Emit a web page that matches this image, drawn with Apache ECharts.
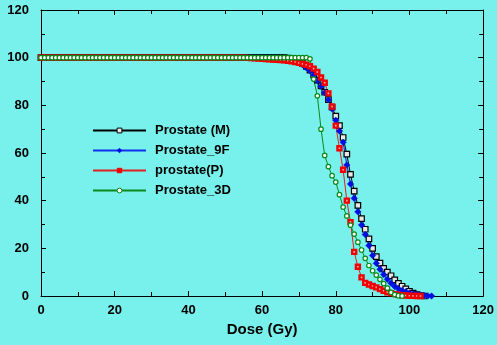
<!DOCTYPE html>
<html>
<head>
<meta charset="utf-8">
<script src="https://cdn.jsdelivr.net/npm/echarts@6/dist/echarts.min.js"></script>
<style>
  html, body { margin: 0; padding: 0; background: #78f0ec; }
  #dvh { width: 497px; height: 345px; }
</style>
</head>
<body>
<div id="dvh"></div>
<script>
// dose axis, 1 Gy steps
const dose = [
  0, 1, 2, 3, 4, 5, 6, 7, 8, 9, 10, 11, 12, 13, 14, 15, 16, 17, 18, 19,
  20, 21, 22, 23, 24, 25, 26, 27, 28, 29, 30, 31, 32, 33, 34, 35, 36, 37, 38, 39,
  40, 41, 42, 43, 44, 45, 46, 47, 48, 49, 50, 51, 52, 53, 54, 55, 56, 57, 58, 59,
  60, 61, 62, 63, 64, 65, 66, 67, 68, 69, 70, 71, 72, 73, 74, 75, 76, 77, 78, 79,
  80, 81, 82, 83, 84, 85, 86, 87, 88, 89, 90, 91, 92, 93, 94, 95, 96, 97, 98, 99,
  100, 101, 102, 103, 104, 105, 106
];
const seriesNames = ["Prostate (M)", "Prostate_9F", "prostate(P)", "Prostate_3D"];

// volume (%) per dose, null = no point
const prostateM = [
  100, 100, 100, 100, 100, 100, 100, 100, 100, 100, 100, 100, 100, 100, 100, 100, 100, 100, 100, 100,
  100, 100, 100, 100, 100, 100, 100, 100, 100, 100, 100, 100, 100, 100, 100, 100, 100, 100, 100, 100,
  100, 100, 100, 100, 100, 100, 100, 100, 100, 100, 100, 100, 100, 100, 100, 100, 100, 100, 100, 100,
  100, 100, 100, 100, 100, 100, 100, 99.8, 99.6, 99.2, 98.5, 97.5, 96.3, 94.8, 92.8, 90.6, 88.2, 85.5, 82.4, 79.2,
  75.5, 71.5, 66.5, 59.5, 51, 44, 38, 32.5, 28, 24, 20, 16.5, 13.8, 11.6, 10, 8.5, 6.8, 5.3, 4.1, 3,
  2, 1.2, 0.6, 0.2, 0, null, null
];
const prostate9F = [
  100, 100, 100, 100, 100, 100, 100, 100, 100, 100, 100, 100, 100, 100, 100, 100, 100, 100, 100, 100,
  100, 100, 100, 100, 100, 100, 100, 100, 100, 100, 100, 100, 100, 100, 100, 100, 100, 100, 100, 100,
  100, 100, 100, 100, 100, 100, 100, 100, 100, 100, 100, 100, 100, 100, 100, 100, 100, 100, 100, 100,
  100, 100, 100, 100, 99.9, 99.8, 99.6, 99.4, 99.1, 98.6, 98, 97, 95.8, 94.5, 92.7, 90.3, 88, 85.3, 82.3, 78.5,
  73.7, 69.2, 64.5, 55, 47, 41, 35.3, 29.8, 25.8, 21.2, 17, 13.7, 11.2, 9, 7, 5.4, 4, 3, 2.3, 1.8,
  1.3, 0.9, 0.6, 0.4, 0.2, 0.05, 0
];
const prostateP = [
  100, 100, 100, 100, 100, 100, 100, 100, 100, 100, 100, 100, 100, 100, 100, 100, 100, 100, 100, 100,
  100, 100, 100, 100, 100, 100, 100, 100, 100, 100, 100, 100, 100, 100, 100, 100, 100, 100, 100, 100,
  100, 100, 100, 100, 100, 100, 100, 100, 100, 100, 100, 100, 100, 100, 100, 100, 99.9, 99.8, 99.7, 99.6,
  99.5, 99.4, 99.3, 99.2, 99.1, 99, 98.9, 98.7, 98.5, 98.2, 97.8, 97.4, 97, 96.4, 95.4, 94, 91.7, 89.5, 85, 79.5,
  71.5, 62, 53, 40, 31, 18.5, 12.3, 7.8, 5.5, 4.8, 4.2, 3.6, 2.9, 2.2, 1.6, 1.2, 0.8, 0.5, 0.3, 0.2,
  0.1, 0.05, 0.02, 0, null, null, null
];
const prostate3D = [
  100, 100, 100, 100, 100, 100, 100, 100, 100, 100, 100, 100, 100, 100, 100, 100, 100, 100, 100, 100,
  100, 100, 100, 100, 100, 100, 100, 100, 100, 100, 100, 100, 100, 100, 100, 100, 100, 100, 100, 100,
  100, 100, 100, 100, 100, 100, 100, 100, 100, 100, 100, 100, 100, 100, 100, 100, 100, 100, 100, 100,
  100, 100, 100, 100, 100, 100, 100, 100, 100, 100, 100, 100, 100, 99.5, 91, 84, 70, 59, 54.3, 50.5,
  47.8, 42.5, 37.3, 33.6, 29.7, 26, 22.6, 19.3, 15.8, 12.8, 10.6, 8.8, 7, 5.2, 3.3, 1.5, 0.6, 0.1, 0, null,
  null, null, null, null, null, null, null
];

function pairs(ys) {
  const out = [];
  for (let i = 0; i < dose.length; i++) {
    if (ys[i] !== null) out.push([dose[i], ys[i]]);
  }
  return out;
}

const chart = echarts.init(document.getElementById("dvh"));
const boldFont = { fontFamily: "Liberation Sans, Arial", fontWeight: "bold", color: "#000" };

const frameAxis = (extra) => Object.assign({
  type: "value",
  min: 0,
  max: 120,
  interval: 20,
  axisLine: { show: true, onZero: false, lineStyle: { color: "#000", width: 1 } },
  axisTick: { show: true, inside: true, length: 5, lineStyle: { color: "#000" } },
  minorTick: { show: true, splitNumber: 2, length: 4, lineStyle: { color: "#000" } },
  splitLine: { show: false },
}, extra);

chart.setOption({
  backgroundColor: "#78f0ec",
  animation: false,
  grid: { left: 41, right: 9, top: 10, bottom: 49 },
  legend: {
    orient: "vertical",
    left: 87,
    top: 119,
    itemWidth: 53,
    itemHeight: 6,
    itemGap: 7,
    textStyle: Object.assign({ fontSize: 13, padding: [0, 0, 0, 4] }, boldFont),
    data: [
      { name: seriesNames[0], itemStyle: { color: "#e8e8e8", borderColor: "#000", borderWidth: 1 } },
      { name: seriesNames[1], itemStyle: { color: "#0010e0", borderColor: "#0010e0", borderWidth: 0.5 } },
      { name: seriesNames[2], itemStyle: { color: "#f00000", borderColor: "#f00000", borderWidth: 0.5 } },
      { name: seriesNames[3], itemStyle: { color: "#ffffff", borderColor: "#0a8a1a", borderWidth: 1 } },
    ],
  },
  xAxis: [
    frameAxis({
      position: "bottom",
      name: "Dose (Gy)",
      nameLocation: "middle",
      nameGap: 26,
      nameTextStyle: Object.assign({ fontSize: 15 }, boldFont),
      axisLabel: Object.assign({ fontSize: 13, margin: 8 }, boldFont),
    }),
    frameAxis({ position: "top", axisLabel: { show: false } }),
  ],
  yAxis: [
    frameAxis({
      position: "left",
      axisLabel: Object.assign({ fontSize: 13, margin: 12 }, boldFont),
    }),
    frameAxis({ position: "right", axisLabel: { show: false } }),
  ],
  series: [
    {
      name: seriesNames[0],
      type: "line",
      data: pairs(prostateM),
      symbol: "rect",
      symbolSize: 5.5,
      lineStyle: { color: "#000", width: 1 },
      itemStyle: { color: "#e8e8e8", borderColor: "#000", borderWidth: 1.2 },
    },
    {
      name: seriesNames[1],
      type: "line",
      data: pairs(prostate9F),
      symbol: "diamond",
      symbolSize: 6.5,
      lineStyle: { color: "#1030f0", width: 1.2 },
      itemStyle: { color: "#0010e0", borderColor: "#0010e0", borderWidth: 0.5 },
    },
    {
      name: seriesNames[2],
      type: "line",
      data: pairs(prostateP),
      symbol: "rect",
      symbolSize: 4,
      lineStyle: { color: "#e02020", width: 1 },
      itemStyle: { color: "#ffb0b0", borderColor: "#f00000", borderWidth: 2.4 },
    },
    {
      name: seriesNames[3],
      type: "line",
      data: pairs(prostate3D),
      symbol: "circle",
      symbolSize: 4.5,
      lineStyle: { color: "#0a8a1a", width: 1 },
      itemStyle: { color: "#ffffff", borderColor: "#0a8a1a", borderWidth: 1.2 },
    },
  ],
});
</script>
</body>
</html>
